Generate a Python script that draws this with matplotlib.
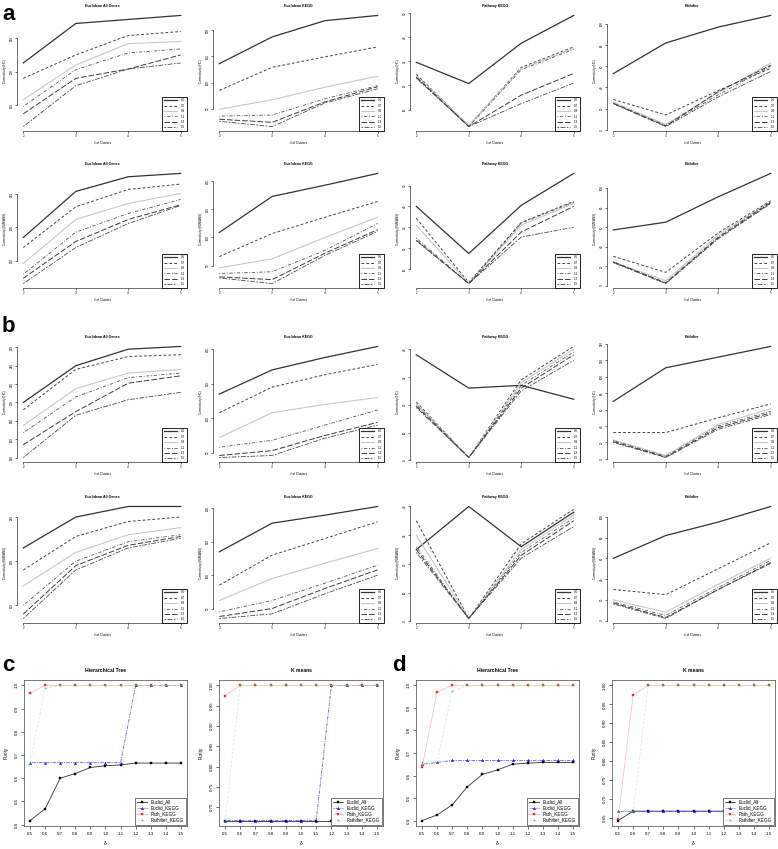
import matplotlib
matplotlib.use('Agg')
import matplotlib.pyplot as plt
from matplotlib.ticker import MultipleLocator, FormatStrFormatter

plt.rcParams['font.family'] = ['Liberation Sans', 'DejaVu Sans']
plt.rcParams['lines.scale_dashes'] = False

W, H = 778, 849

clusters = [2, 3, 4, 5]
line_deltas = ['0.5', '0.7', '0.9', '1.1', '1.3', '1.5']
panel_titles = ['Euclidean All Genes', 'Euclidean KEGG', 'Pathway KEGG', 'Pathifier']

# panel a, one row per delta in line_deltas, columns = clusters 2..5
a_hc_euclid_all = [[213, 272, 278, 284], [190, 225, 254, 260], [158, 210, 242, 245],
                   [148, 203, 228, 234], [137, 190, 204, 225], [118, 179, 204, 213]]
a_hc_euclid_kegg = [[136, 187, 218, 228], [85, 129, 149, 168], [49, 67, 91, 112],
                    [36, 38, 69, 94], [30, 24, 63, 92], [26, 16, 61, 88]]
a_hc_path_kegg = [[29.6, 20.8, 37.5, 49], [24.6, 3.3, 27.5, 36], [24, 3.5, 27, 35.5],
                  [23.5, 3, 26.5, 35], [23.5, 3, 16, 25], [23, 3, 12.5, 21]]
a_hc_pathifier = [[53, 82, 97, 108], [28.6, 14, 37, 58], [26, 5, 35, 63],
                  [25, 4, 33, 60], [25, 3.5, 36, 61], [24.5, 3, 31, 55]]
a_km_euclid_all = [[185, 254, 276, 281], [170, 231, 257, 265], [146, 212, 236, 251],
                   [130, 193, 221, 242], [124, 179, 212, 234], [116, 170, 206, 233]]
a_km_euclid_kegg = [[109, 173, 193, 214], [66, 107, 136, 164], [46, 62, 100, 136],
                    [36, 39, 77, 125], [30, 25, 72, 114], [28, 18, 68, 111]]
a_km_path_kegg = [[40, 17.4, 40.5, 55.8], [34.3, 3.5, 32.3, 42.4], [31, 3, 31, 41.4],
                  [24.8, 3, 32, 42], [23.8, 3, 27.7, 40], [23.5, 3, 25.3, 30]]
a_km_pathifier = [[57, 65, 91, 115], [30, 13.5, 54, 87], [24, 5, 52, 86],
                  [24.5, 3, 50, 86], [24, 2.5, 49, 85], [23.5, 2, 48, 84]]

# panel b
b_hc_euclid_all = [[200, 240, 258, 261], [192, 236, 250, 252], [175, 215, 232, 236],
                   [167, 206, 227, 232], [154, 190, 221, 229], [140, 186, 203, 211]]
b_hc_euclid_kegg = [[135, 170, 188, 204], [108, 145, 163, 178], [72, 108, 120, 130],
                    [58, 68, 90, 112], [46, 53, 75, 94], [43, 46, 71, 90]]
b_hc_path_kegg = [[38, 26, 27, 22], [21, 1, 29, 41], [20.5, 1, 28, 40],
                  [20, 1, 27, 39], [19.5, 1, 26, 38], [19, 1, 25, 36]]
b_hc_pathifier = [[70, 111, 124, 137], [32, 32, 50, 67], [23, 4, 42, 61],
                  [22, 3, 40, 58], [21, 2, 38, 56], [20, 1.5, 36, 54]]
b_km_euclid_all = [[215, 250, 262, 262], [190, 228, 245, 250], [172, 210, 230, 238],
                   [150, 200, 222, 230], [140, 195, 218, 228], [135, 190, 215, 226]]
b_km_euclid_kegg = [[135, 178, 190, 203], [85, 130, 155, 180], [62, 95, 118, 140],
                    [45, 62, 88, 115], [38, 50, 80, 108], [35, 42, 72, 100]]
b_km_path_kegg = [[25, 40, 26, 38], [35, 1, 27, 39], [30, 1, 25, 37],
                  [26, 1, 24, 36], [25, 1, 23, 35], [24, 1, 22, 33]]
b_km_pathifier = [[60, 82, 95, 110], [30, 25, 50, 75], [20, 8, 35, 60],
                  [18, 5, 32, 58], [17, 3, 30, 56], [16, 2, 30, 55]]

# panels c and d: purity against delta
deltas = [0.5, 0.6, 0.7, 0.8, 0.9, 1.0, 1.1, 1.2, 1.3, 1.4, 1.5]
purity_series = ['Euclid_All', 'Euclid_KEGG', 'Path_KEGG', 'Pathifier_KEGG']
c_hc = [[0.417, 0.468, 0.60, 0.62, 0.646, 0.654, 0.657, 0.665, 0.665, 0.665, 0.665],
        [0.667, 0.667, 0.667, 0.667, 0.667, 0.667, 0.667, 1.0, 1.0, 1.0, 1.0],
        [0.967, 1.0, 1.0, 1.0, 1.0, 1.0, 1.0, 1.0, 1.0, 1.0, 1.0],
        [0.667, 0.987, 1.0, 1.0, 1.0, 1.0, 1.0, 1.0, 1.0, 1.0, 1.0]]
c_km = [[0.667, 0.667, 0.667, 0.667, 0.667, 0.667, 0.667, 0.667, 0.667, 0.667, 0.667],
        [0.667, 0.667, 0.667, 0.667, 0.667, 0.667, 0.667, 1.0, 1.0, 1.0, 1.0],
        [0.975, 1.0, 1.0, 1.0, 1.0, 1.0, 1.0, 1.0, 1.0, 1.0, 1.0],
        [0.667, 1.0, 1.0, 1.0, 1.0, 1.0, 1.0, 1.0, 1.0, 1.0, 1.0]]
d_hc = [[0.40, 0.425, 0.47, 0.55, 0.605, 0.625, 0.65, 0.655, 0.658, 0.658, 0.658],
        [0.65, 0.658, 0.667, 0.667, 0.667, 0.667, 0.667, 0.667, 0.667, 0.667, 0.667],
        [0.636, 0.97, 1.0, 1.0, 1.0, 1.0, 1.0, 1.0, 1.0, 1.0, 1.0],
        [0.66, 0.66, 0.975, 1.0, 1.0, 1.0, 1.0, 1.0, 1.0, 1.0, 1.0]]
d_km = [[0.642, 0.667, 0.667, 0.667, 0.667, 0.667, 0.667, 0.667, 0.667, 0.667, 0.667],
        [0.667, 0.667, 0.667, 0.667, 0.667, 0.667, 0.667, 0.667, 0.667, 0.667, 0.667],
        [0.645, 0.975, 1.0, 1.0, 1.0, 1.0, 1.0, 1.0, 1.0, 1.0, 1.0],
        [0.667, 0.667, 1.0, 1.0, 1.0, 1.0, 1.0, 1.0, 1.0, 1.0, 1.0]]

line_colors = ['#333333', '#444444', '#c8c8c8', '#555555', '#3a3a3a', '#4a4a4a']
line_styles = ['-', (0, (2, 1.5)), '-', (0, (0.6, 1.2, 2.4, 1.2)), (0, (4, 1.5)), (0, (1.2, 1, 3.5, 1))]
line_widths = [0.9, 0.7, 0.8, 0.6, 0.7, 0.6]


def px_axes(fig, left, top, right, bottom):
    return fig.add_axes([left / W, 1 - bottom / H, (right - left) / W, (bottom - top) / H])


def line_panel(ax, title, values, ystep, ylabel):
    for vals, c, ls, lw, lab in zip(values, line_colors, line_styles, line_widths, line_deltas):
        ax.plot(clusters, vals, color=c, ls=ls, lw=lw, label=lab)
    ax.margins(x=0.04, y=0.04)
    ax.set_title(title, fontsize=2.6, fontweight='bold', pad=3)
    ax.yaxis.set_major_locator(MultipleLocator(ystep))
    ax.set_xticks(clusters)
    lo, hi = ax.get_ylim()
    yt = [t for t in ax.get_yticks() if lo <= t <= hi]
    ax.set_yticks(yt)
    ax.set_ylim(lo, hi)
    for s in ['top', 'right']:
        ax.spines[s].set_visible(False)
    ax.spines['left'].set_bounds(yt[0], yt[-1])
    ax.spines['bottom'].set_bounds(clusters[0], clusters[-1])
    for s in ['left', 'bottom']:
        ax.spines[s].set_linewidth(0.4)
    ax.tick_params(labelsize=2.2, length=1.2, width=0.4, pad=1)
    for t in ax.get_yticklabels():
        t.set_rotation(90)
        t.set_va('center')
    ax.set_xlabel('# of Clusters', fontsize=2.2, labelpad=2)
    ax.set_ylabel(ylabel, fontsize=2.2, labelpad=2)
    leg = ax.legend(loc='lower right', fontsize=2.2, handlelength=4.5, handletextpad=1.2,
                    labelspacing=0.45, borderpad=0.5, fancybox=False, framealpha=1,
                    borderaxespad=0.05)
    leg.get_frame().set_edgecolor('black')
    leg.get_frame().set_linewidth(0.6)


def purity_panel(ax, title, values, ystep, fmt):
    colors = ['black', 'blue', 'red', '#22cc22']
    line_cols = ['#333333', '#4444ff', '#ffaaaa', '#99ee99']
    styles = ['-', (0, (0.8, 0.8, 2.5, 0.8)), '-', (0, (2, 1.2))]
    markers = ['s', '^', 's', '*']
    alphas = [1, 0.85, 0.75, 0.55]
    for vals, c, lc, ls, m, a, lab in zip(values, colors, line_cols, styles, markers, alphas, purity_series):
        ax.plot(deltas, vals, color=lc, ls=ls, lw=0.6, marker=m, ms=1.7,
                mfc=c, mec=c, mew=0.3, alpha=a, label=lab)
    ax.margins(x=0.04, y=0.04)
    ax.set_title(title, fontsize=3.6, fontweight='bold', pad=6)
    ax.set_xticks(deltas)
    ax.xaxis.set_major_formatter(FormatStrFormatter('%.1f'))
    ax.yaxis.set_major_locator(MultipleLocator(ystep))
    ax.yaxis.set_major_formatter(FormatStrFormatter(fmt))
    for s in ax.spines.values():
        s.set_linewidth(0.5)
        s.set_color('#444444')
    ax.tick_params(labelsize=3.2, length=2, width=0.4, pad=2)
    for t in ax.get_yticklabels():
        t.set_rotation(90)
        t.set_va('center')
    ax.set_xlabel('δ', fontsize=3.4, labelpad=4)
    ax.set_ylabel('Purity', fontsize=3.4, labelpad=4)
    leg = ax.legend(loc='lower right', fontsize=3.3, handlelength=2.2, labelspacing=0.25,
                    borderpad=0.4, fancybox=False, framealpha=1, borderaxespad=0.3)
    leg.get_frame().set_edgecolor('#444444')
    leg.get_frame().set_linewidth(0.5)


fig = plt.figure(figsize=(W / 100, H / 100), dpi=100)

col_x = [(17, 187), (213, 384), (410, 580), (607, 777)]
row_y = [(11, 131), (169, 288), (342, 462), (502, 623)]
rows = [
    ([a_hc_euclid_all, a_hc_euclid_kegg, a_hc_path_kegg, a_hc_pathifier], [50, 50, 10, 20], 'Connectivity (HC)'),
    ([a_km_euclid_all, a_km_euclid_kegg, a_km_path_kegg, a_km_pathifier], [50, 50, 10, 20], 'Connectivity (KMEANS)'),
    ([b_hc_euclid_all, b_hc_euclid_kegg, b_hc_path_kegg, b_hc_pathifier], [20, 50, 10, 20], 'Connectivity (HC)'),
    ([b_km_euclid_all, b_km_euclid_kegg, b_km_path_kegg, b_km_pathifier], [50, 50, 10, 20], 'Connectivity (KMEANS)'),
]
for (top, bottom), (panels, steps, ylab) in zip(row_y, rows):
    for (left, right), vals, step, title in zip(col_x, panels, steps, panel_titles):
        ax = px_axes(fig, left, top, right, bottom)
        line_panel(ax, title, vals, step, ylab)

pur_x = [(24, 187), (219, 383), (416, 579), (612, 775)]
pur_data = [(c_hc, 'Hierarchical Tree', 0.1, '%.1f'), (c_km, 'K means', 0.05, '%.2f'),
            (d_hc, 'Hierarchical Tree', 0.1, '%.1f'), (d_km, 'K means', 0.05, '%.2f')]
for (left, right), (vals, title, step, fmt) in zip(pur_x, pur_data):
    ax = px_axes(fig, left, 680, right, 826)
    purity_panel(ax, title, vals, step, fmt)

for lab, x, y in [('a', 2, 4), ('b', 2, 316), ('c', 2, 655), ('d', 392, 655)]:
    fig.text(x / W, 1 - y / H, lab, fontsize=16, fontweight='bold', ha='left', va='top')

fig.savefig('out.png', dpi=100)
